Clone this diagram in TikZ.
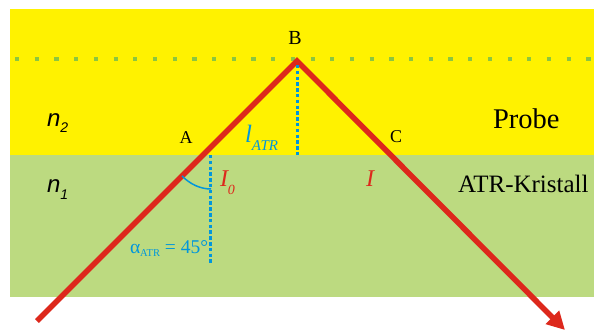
\documentclass[tikz,border=0pt]{standalone}
\usepackage{fontspec}
\setmainfont{Liberation Serif}
\newfontfamily\arialf{Liberation Sans}
\usetikzlibrary{arrows.meta}
\definecolor{probeyellow}{RGB}{255,242,0}
\definecolor{crystalgreen}{RGB}{188,218,128}
\definecolor{dotgreen}{RGB}{140,198,63}
\definecolor{rayred}{RGB}{221,40,28}
\definecolor{atrblue}{RGB}{0,150,220}
\newcommand{\fs}[1]{\fontsize{#1}{#1}\selectfont}
\tikzset{
  lbl/.style={inner sep=0pt, outer sep=0pt},
  ray/.style={draw=rayred, line width=5.5pt, line join=miter},
  normal/.style={draw=atrblue, line width=3pt, dash pattern=on 3.5pt off 2.3pt},
}
\begin{document}
\begin{tikzpicture}[x=1pt,y=-1pt]
\useasboundingbox (0,0) rectangle (594,331);
% media
\fill[probeyellow] (10,9) rectangle (594,155);
\fill[crystalgreen] (10,155) rectangle (594,297);
% interface line (dotted)
\draw[dotgreen, line width=4.2pt, dash pattern=on 4.2pt off 15.5pt] (15,59) -- (594,59);
% coordinates of the ray
\coordinate (start) at (37,321);
\coordinate (apex) at (297,61);
\coordinate (tip) at (565,330);
\coordinate (nAtop) at (210,155);
\coordinate (nAbot) at (210,265);
\coordinate (nBtop) at (297,65);
\coordinate (nBbot) at (297,157);
\coordinate (arcA) at (182,176);
\coordinate (arcB) at (211,189);
% ray
\draw[ray, -{Triangle[length=18pt,width=18pt]}] (start) -- (apex) -- (tip);
% normals
\draw[normal] (nAtop) -- (nAbot);
\draw[normal] (nBtop) -- (nBbot);
% angle arc
\draw[atrblue, line width=1.5pt] (arcA) .. controls (190,184) and (200,189) .. (arcB);
% labels
\node[lbl, anchor=base] (B) at (295,45) {\fs{20}B};
\node[lbl, anchor=base] (A) at (186,144) {\fs{18}A};
\node[lbl, anchor=base] (C) at (396,143) {\fs{18}C};
\node[lbl, anchor=base west] (n2) at (47,127) {\arialf\itshape\fs{24}n\raisebox{-6pt}{\fs{14}2}};
\node[lbl, anchor=base west] (n1) at (47,193) {\arialf\itshape\fs{24}n\raisebox{-7pt}{\fs{14}1}};
\node[lbl, anchor=base west] (probe) at (493,129) {\fs{28.5}Probe};
\node[lbl, anchor=base west] (kristall) at (458,193) {\fs{25}ATR-Kristall};
\node[lbl, anchor=base west, text=atrblue] (latr) at (245,143) {\itshape\fs{25}l\raisebox{-7.5pt}{\fs{15}ATR}};
\node[lbl, anchor=base west, text=rayred] (I0) at (220,186) {\itshape\fs{24}I\raisebox{-8pt}{\fs{14}0}};
\node[lbl, anchor=base west, text=rayred] (I) at (366,187) {\itshape\fs{24}I};
\node[lbl, anchor=base west, text=atrblue] (alpha) at (130,253) {\fs{19.5}α\raisebox{-3pt}{\fs{10.5}ATR} = 45°};
\end{tikzpicture}
\end{document}
